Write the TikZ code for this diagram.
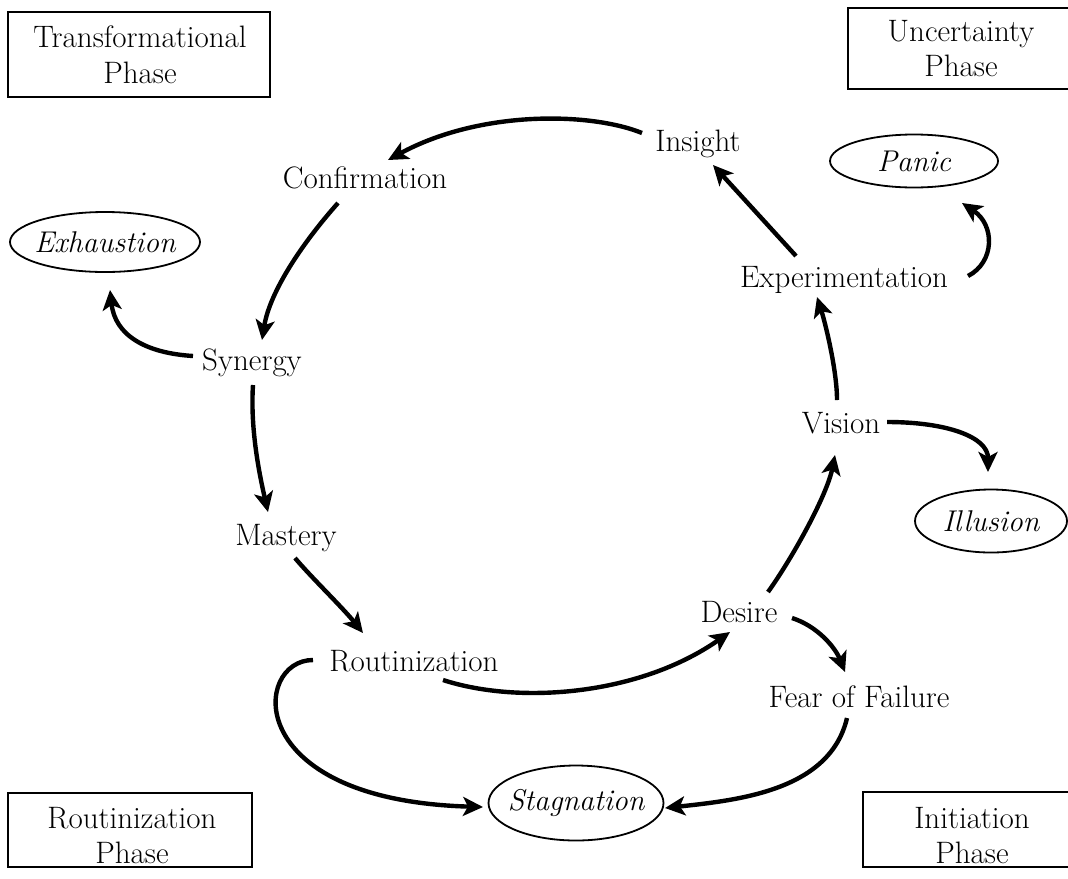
\documentclass[tikz,border=0pt]{standalone}
\usetikzlibrary{arrows.meta,calc,shapes.geometric}
\begin{document}
\begin{tikzpicture}[x=0.5pt,y=-0.5pt,
  lbl/.style={font=\fontsize{15.5}{17.5}\selectfont, inner sep=0pt, anchor=base},
  phasetxt/.style={font=\fontsize{15.5}{17.5}\selectfont, inner sep=0pt, anchor=base, align=center},
  oval/.style={ellipse, draw, line width=0.9pt, inner xsep=-14pt, inner ysep=-4pt, font=\fontsize{15}{17.5}\selectfont\itshape},
  boxline/.style={line width=0.9pt},
  arr/.style={line width=2.2pt, -{Stealth[length=10pt,width=9.5pt,inset=2.5pt]}}]
\useasboundingbox (0,0) rectangle (1068,878);

% phase boxes (base anchor = baseline of last line)
\draw[boxline] (8,12) rectangle (270,97);
\node[phasetxt] (tph) at (140,83) {Transformational\\Phase};
\draw[boxline] (1075,8) -- (848,8) -- (848,89) -- (1075,89);
\node[phasetxt] (uph) at (961,76) {Uncertainty\\Phase};
\draw[boxline] (8,793) rectangle (252,867);
\node[phasetxt] (rph) at (132,863) {Routinization\\Phase};
\draw[boxline] (1075,792) -- (863,792) -- (863,867) -- (1075,867);
\node[phasetxt] (iph) at (972,863) {Initiation\\Phase};

% cycle labels
\node[lbl] (insight) at (698,151) {Insight};
\node[lbl] (conf) at (365,188) {Confirmation};
\node[lbl] (syn) at (252,370) {Synergy};
\node[lbl] (mastery) at (286,545) {Mastery};
\node[lbl] (rout) at (414,671) {Routinization};
\node[lbl] (desire) at (739,622) {Desire};
\node[lbl] (fear) at (859,707) {Fear of Failure};
\node[lbl] (vision) at (841,433) {Vision};
\node[lbl] (exp) at (844,287) {Experimentation};

% ovals
\node[oval, minimum width=95pt, minimum height=30pt] (exh) at (105,242) {Exhaustion};
\node[oval, minimum width=84pt, minimum height=26.5pt] (panic) at (914,161) {Panic};
\node[oval, minimum width=76pt, minimum height=31.5pt] (illusion) at (991,521) {Illusion};
\node[oval, minimum width=87.5pt, minimum height=37.5pt] (stag) at (576,803) {Stagnation};

% connectors
\draw[arr] ($(insight.base)+(-56,-18)$) .. controls +(-52,-21) and +(92,-50) .. ($(conf.base)+(23,-28)$);
\draw[arr] ($(exp.base)+(-48,-31)$) -- ($(insight.base)+(15,14)$);
\draw[arr] ($(exp.base)+(124,-11)$) .. controls +(27,-14) and +(33,22) .. ($(panic.center)+(48,42)$);
\draw[arr] ($(vision.base)+(-4,-33)$) .. controls +(0,-30) and +(8,25) .. ($(exp.base)+(-27,10)$);
\draw[arr] ($(vision.base)+(46,-11)$) .. controls +(60,0) and +(0,-35) .. ($(illusion.center)+(-3,-49)$);
\draw[arr] ($(desire.base)+(29,-30)$) .. controls +(25,-35) and +(-8,40) .. ($(vision.base)+(-6,22)$);
\draw[arr] ($(desire.base)+(53,-4)$) .. controls +(25,8) and +(-10,-25) .. ($(fear.base)+(-14,-35)$);
\draw[arr] ($(fear.base)+(-12,11)$) .. controls +(-17,72) and +(75,-8) .. ($(stag.center)+(89,5)$);
\draw[arr] ($(rout.base)+(29,9)$) .. controls +(77,25) and +(-90,63) .. ($(desire.base)+(-9,10)$);
\draw[arr] ($(rout.base)+(-101,-11)$) .. controls +(-60,0) and +(-243,-7) .. ($(stag.center)+(-93,4)$);
\draw[arr] ($(mastery.base)+(9,13)$) .. controls +(15,18) and +(-20,-25) .. ($(rout.base)+(-51,-38)$);
\draw[arr] ($(syn.base)+(1,15)$) .. controls +(-3,45) and +(-8,-35) .. ($(mastery.base)+(-18,-33)$);
\draw[arr] ($(conf.base)+(-27,15)$) .. controls +(-33,37) and +(8,-50) .. ($(syn.base)+(10,-30)$);
\draw[arr] ($(syn.base)+(-59,-14)$) .. controls +(-48,-3) and +(5,45) .. ($(exh.center)+(5,48)$);
\end{tikzpicture}
\end{document}
